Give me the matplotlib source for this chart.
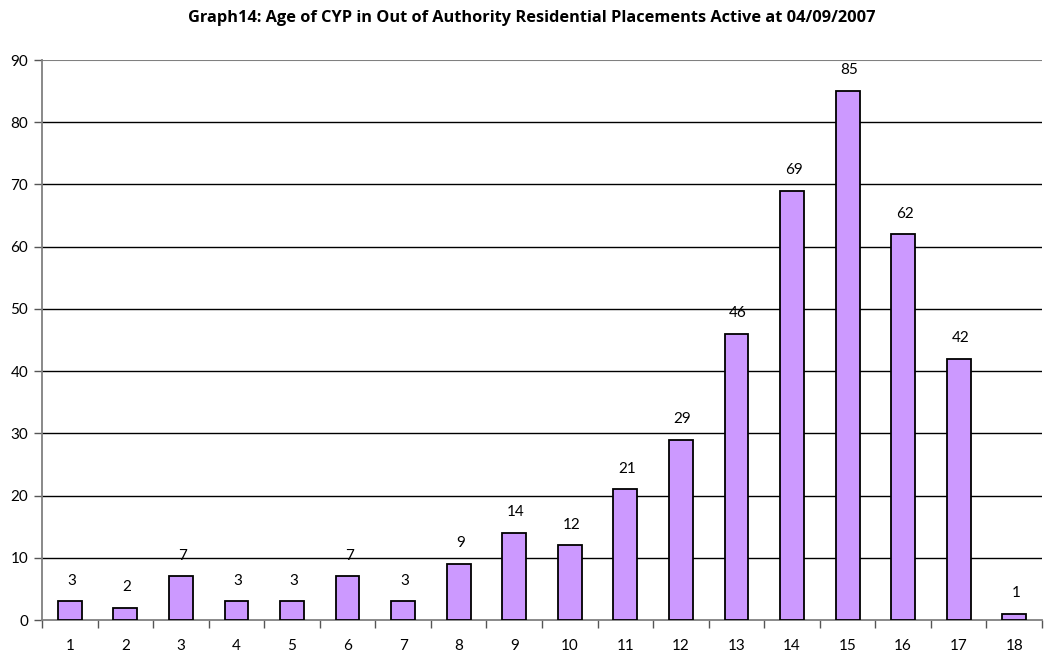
import matplotlib
matplotlib.use("Agg")
import matplotlib.pyplot as plt
import numpy as np

ages = [str(i) for i in range(1, 19)]
counts = [3, 2, 7, 3, 3, 7, 3, 9, 14, 12, 21, 29, 46, 69, 85, 62, 42, 1]
yticks = list(range(0, 100, 10))

plt.rcParams['font.family'] = ['Lato', 'DejaVu Sans']
fig = plt.figure(figsize=(10.56, 6.62), dpi=100)
ax = fig.add_axes([42/1056, 42/662, 1000/1056, 560/662])

x = np.arange(len(ages))
bars = ax.bar(x, counts, width=0.43, color='#CC99FF', edgecolor='black', linewidth=1.3, zorder=3)
for xi, v in zip(x, counts):
    ax.text(xi + 0.03, v + 2.2, str(v), ha='center', va='bottom', fontsize=11, zorder=4)

ax.set_xlim(-0.5, len(ages) - 0.5)
ax.set_ylim(0, 90)
ax.set_yticks(yticks)
ax.set_yticklabels([str(t) for t in yticks], fontsize=11)
ax.set_xticks(x)
ax.set_xticklabels(ages, fontsize=11)
ax.set_xticks(np.arange(-0.5, len(ages), 1), minor=True)
ax.tick_params(axis='x', which='major', length=0, pad=14)
ax.tick_params(axis='x', which='minor', length=6, color='#555555', width=1)
ax.tick_params(axis='y', length=6, color='#555555', width=1, pad=4)
for yt in yticks[1:-1]:
    ax.axhline(yt, color='black', linewidth=1, zorder=1)
ax.axhline(90, color='#808080', linewidth=1.5, zorder=1)
ax.spines['right'].set_visible(False)
ax.spines['top'].set_visible(False)
ax.spines['left'].set_color('#808080')
ax.spines['bottom'].set_color('#808080')
ax.spines['left'].set_linewidth(1.3)
ax.spines['bottom'].set_linewidth(1.3)

fig.text(532/1056, 1 - 18/662, 'Graph14: Age of CYP in Out of Authority Residential Placements Active at 04/09/2007',
         ha='center', va='center', fontsize=11.8, fontweight='bold', family=['Open Sans', 'DejaVu Sans'])

fig.savefig('out.png', dpi=100)
